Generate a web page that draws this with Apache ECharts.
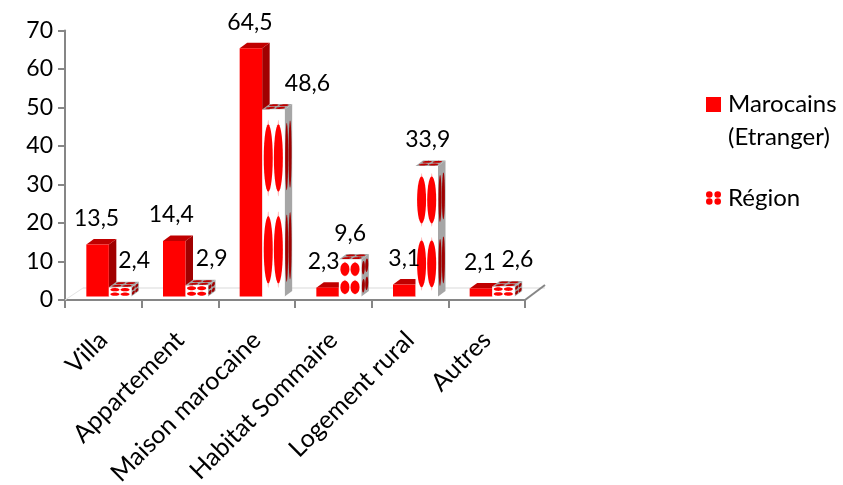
<!DOCTYPE html>
<html>
<head>
<meta charset="utf-8">
<style>html,body{margin:0;padding:0;background:#fff}#c{width:843px;height:485px}</style>
<script src="https://cdn.jsdelivr.net/npm/echarts@6/dist/echarts.min.js"></script>
</head>
<body>
<div id="c"></div>
<script>
const categories = ['Villa', 'Appartement', 'Maison marocaine', 'Habitat Sommaire', 'Logement rural', 'Autres'];
const marocains = [13.5, 14.4, 64.5, 2.3, 3.1, 2.1];
const region = [2.4, 2.9, 48.6, 9.6, 33.9, 2.6];
const labelsMarocains = ['13,5', '14,4', '64,5', '2,3', '3,1', '2,1'];
const labelsRegion = ['2,4', '2,9', '48,6', '9,6', '33,9', '2,6'];
const nameMarocains = 'Marocains\n(Etranger)';
const nameRegion = 'Région';

const FONT = 'Lato';
const FS = 23;
const BAR_W = 22.5, DX = 7.5, DY = 5.5, FLOOR = 3.5;
const nudgeA = [[-1,-1],[-3,-1],[-1,-1],[-4,-1],[0,-1],[-1,-1]];
const nudgeB = [[14,-2],[15,-2],[34,-1],[0,-1],[1,-1],[14,-2]];

function lens(o, u, v, cx, cy, rx, ry, fill) {
  const pts = [];
  for (let i = 0; i < 28; i++) {
    const t = i / 28 * Math.PI * 2;
    const a = cx + rx * Math.cos(t), b = cy + ry * Math.sin(t);
    pts.push([o[0] + u[0] * a + v[0] * b, o[1] + u[1] * a + v[1] * b]);
  }
  return {type: 'polygon', silent: true, shape: {points: pts}, style: {fill}};
}
function dots(o, u, v, color, tips) {
  const out = [];
  [0.27, 0.72].forEach(cx => [0.26, 0.75].forEach(cy => {
    if (tips) out.push(lens(o, u, v, cx, cy, 0.07, 0.205, 'rgba(255,0,0,0.28)'));
    out.push(lens(o, u, v, cx, cy, 0.2, 0.18, color));
  }));
  return out;
}
function poly(points, fill) {
  return {type: 'polygon', silent: true, shape: {points}, style: {fill}};
}
function makeRender(kind) {
  return function (params, api) {
    const i = params.dataIndex;
    const cat = api.value(0), val = api.value(1);
    const p0 = api.coord([cat, 0]), p1 = api.coord([cat, val]);
    const cxBand = p0[0];
    const x = kind === 0 ? cxBand - 17 : cxBand - 17 + BAR_W;
    const yb = p0[1] - FLOOR, yt = p1[1] - FLOOR;
    const h = yb - yt;
    const children = [];
    const topPts = [[x, yt], [x + BAR_W, yt], [x + BAR_W + DX, yt - DY], [x + DX, yt - DY]];
    const sidePts = [[x + BAR_W, yt], [x + BAR_W + DX, yt - DY], [x + BAR_W + DX, yb - DY], [x + BAR_W, yb]];
    if (kind === 0) {
      children.push(poly(sidePts, '#A00000'));
      children.push(poly(topPts, '#C00000'));
      children.push({type: 'rect', silent: true, shape: {x, y: yt, width: BAR_W, height: h}, style: {fill: '#FF0000'}});
    } else {
      const tall = h > 30;
      children.push(poly(sidePts, '#A6A6A6'));
      children.push(...dots([x + BAR_W, yt], [DX, -DY], [0, h], '#A00000', false));
      children.push(poly(topPts, '#A6A6A6'));
      children.push(...dots([x, yt], [BAR_W, 0], [DX, -DY], '#C00000', false));
      children.push({type: 'rect', silent: true, shape: {x, y: yt, width: BAR_W, height: h}, style: {fill: '#FFFFFF'}});
      children.push(...dots([x, yt], [BAR_W, 0], [0, h], '#FF0000', tall));
    }
    const n = (kind === 0 ? nudgeA : nudgeB)[i];
    const label = (kind === 0 ? labelsMarocains : labelsRegion)[i];
    children.push({
      type: 'text', silent: true, z2: 50,
      style: {x: x + BAR_W / 2 + n[0], y: yt - 25 + n[1], text: label, font: FS + 'px ' + FONT,
        fill: '#000', align: 'center', verticalAlign: 'middle'}
    });
    return {type: 'group', children};
  };
}
const dataA = marocains.map((v, i) => [i, v]);
const dataB = region.map((v, i) => [i, v]);

const chart = echarts.init(document.getElementById('c'), null, {renderer: 'canvas'});
const axisGray = '#868686';
chart.setOption({
  animation: false,
  backgroundColor: '#fff',
  textStyle: {fontFamily: FONT},
  grid: {left: 65, right: 318, top: 30.5, bottom: 185, outerBoundsMode: 'none'},
  legend: {
    left: 701, top: 83, orient: 'vertical', itemWidth: 15, itemHeight: 48, itemGap: 20,
    selectedMode: false,
    textStyle: {fontFamily: FONT, fontSize: 24, color: '#000', lineHeight: 33, padding: [0, 0, 0, 2]},
    data: [
      {name: nameMarocains, icon: 'path://M0 0H15V15H0Z M0 48L0 48', itemStyle: {color: '#FF0000'}},
      {name: nameRegion, icon: 'path://M0 0L0 0 M0 48L0 48 M0 20.5a3.3 3.3 0 1 0 6.6 0a3.3 3.3 0 1 0 -6.6 0Z M8.4 20.5a3.3 3.3 0 1 0 6.6 0a3.3 3.3 0 1 0 -6.6 0Z M0 27.5a3.3 3.3 0 1 0 6.6 0a3.3 3.3 0 1 0 -6.6 0Z M8.4 27.5a3.3 3.3 0 1 0 6.6 0a3.3 3.3 0 1 0 -6.6 0Z', itemStyle: {color: '#FF0000'}}
    ]
  },
  xAxis: {
    type: 'category', data: categories,
    axisLine: {show: true, lineStyle: {color: axisGray, width: 2}},
    axisTick: {show: true, length: 8, alignWithLabel: false, lineStyle: {color: axisGray, width: 2}},
    axisLabel: {rotate: 45, interval: 0, margin: 36, fontSize: 25, color: '#000', fontFamily: FONT},
    splitLine: {show: false}
  },
  yAxis: {
    type: 'value', min: 0, max: 70, interval: 10,
    axisLine: {show: true, lineStyle: {color: axisGray, width: 2}},
    axisTick: {show: true, length: 7, lineStyle: {color: axisGray, width: 2}},
    axisLabel: {fontSize: FS, color: '#000', margin: 12, fontFamily: FONT, padding: [7, 0, 0, 0]},
    splitLine: {show: false}
  },
  graphic: [
    {type: 'line', silent: true, z: 1, shape: {x1: 83, y1: 288, x2: 545, y2: 288}, style: {stroke: '#D9D9D9', lineWidth: 1}},
    {type: 'line', silent: true, z: 1, shape: {x1: 65, y1: 300, x2: 83, y2: 288}, style: {stroke: '#E4E4E4', lineWidth: 1}},
    {type: 'line', silent: true, z: 1, shape: {x1: 525, y1: 300, x2: 545, y2: 285}, style: {stroke: axisGray, lineWidth: 2}}
  ],
  series: [
    {name: nameMarocains, type: 'custom', z: 3, renderItem: makeRender(0), data: dataA, itemStyle: {color: '#FF0000'}, encode: {x: 0, y: 1}},
    {name: nameRegion, type: 'custom', z: 3, renderItem: makeRender(1), data: dataB, itemStyle: {color: '#FF0000'}, encode: {x: 0, y: 1}}
  ]
});
</script>
</body>
</html>
